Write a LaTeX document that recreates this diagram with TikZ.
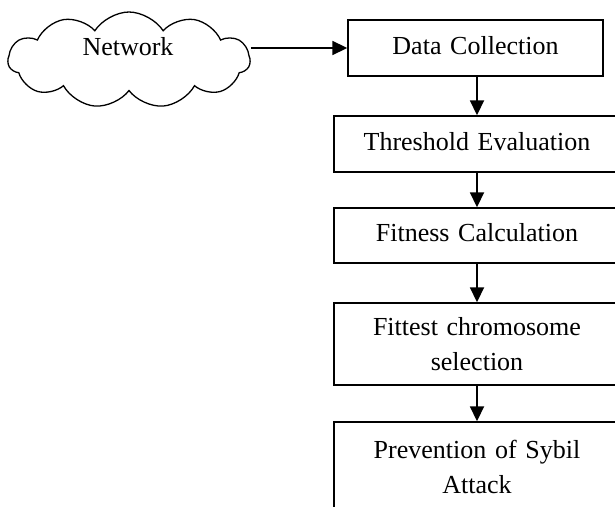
\documentclass[tikz,border=0pt]{standalone}
\usepackage{fontspec}
\setmainfont{Liberation Serif}
\usetikzlibrary{shapes.symbols,arrows.meta}
\tikzset{
  stepbox/.style={draw, line width=1.4pt, minimum width=286pt, text width=270pt,
    align=center, inner sep=0pt, font=\fontsize{26}{35}\selectfont},
  oneline/.style={text height=18pt, text depth=6pt},
  flow/.style={line width=1.8pt, -{Triangle[length=15pt,width=14pt]}},
  netcloud/.style={cloud, draw, line width=1.3pt, cloud puffs=11, cloud puff arc=115,
    aspect=2.5, minimum width=242pt, minimum height=96pt, inner sep=0pt}
}
\begin{document}
\begin{tikzpicture}[x=1pt,y=-1pt]
\useasboundingbox (0,0) rectangle (615,506);
\clip (0,0) rectangle (615,506);
\node[netcloud] (net) at (129,60) {};
\node[anchor=base, font=\fontsize{26}{35}\selectfont] (nettext) at (128,55) {Network};
\node[stepbox, oneline, minimum width=255pt, text width=240pt, minimum height=56pt] (dc) at (475.5,48) {Data Collection};
\node[stepbox, oneline, minimum height=56pt] (th) at (477,144) {Threshold Evaluation};
\node[stepbox, oneline, minimum height=55pt] (fc) at (477,235.5) {Fitness Calculation};
\node[stepbox, minimum height=82pt] (fs) at (477,344) {Fittest chromosome\\selection};
\node[stepbox, minimum height=90pt] (pv) at (477,467) {Prevention of Sybil\\Attack};
\draw[flow] (dc.west -| net.east) -- (dc.west);
\draw[flow] (dc.south -| th.north) -- (th.north);
\draw[flow] (th.south) -- (fc.north);
\draw[flow] (fc.south) -- (fs.north);
\draw[flow] (fs.south) -- (pv.north);
\end{tikzpicture}
\end{document}
